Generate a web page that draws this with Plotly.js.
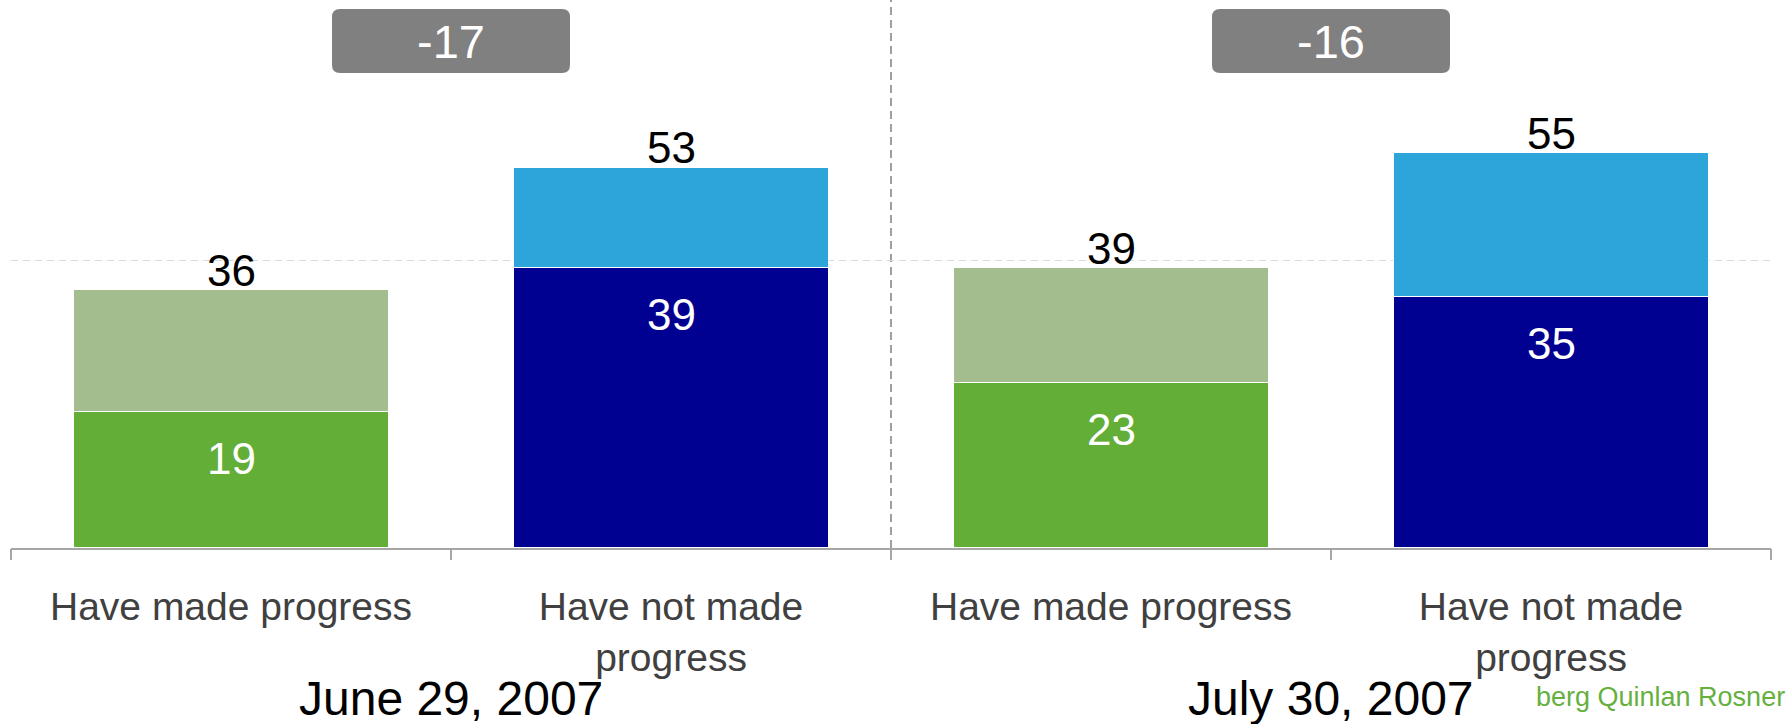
<!DOCTYPE html>
<html>
<head>
<meta charset="utf-8">
<script src="https://cdn.plot.ly/plotly-3.0.1.min.js"></script>
<style>
  html, body { margin: 0; padding: 0; background: #ffffff; }
  #chart { width: 1792px; height: 724px; }
</style>
</head>
<body>
<div id="chart"></div>
<script>
// ---- data ----
const dateLabels = ["June 29, 2007", "July 30, 2007"];
const categories = ["Have made progress", "Have not made<br>progress", "Have made progress", "Have not made<br>progress"];
const groupOfBar = [0, 0, 1, 1];
const strongValues = [19, 39, 23, 35];   // darker, lower segment
const totalValues = [36, 53, 39, 55];    // full bar height
const sourceText = "berg Quinlan Rosner";

// ---- styles ----
const FONT = "Arial, 'Liberation Sans', sans-serif";
const lowerColors = ["#62AE37", "#000091", "#62AE37", "#000091"];
const upperColors = ["#A3BD8F", "#2EA5DA", "#A3BD8F", "#2EA5DA"];

const xs = categories.map((_, i) => i);
const upperValues = totalValues.map((t, i) => t - strongValues[i]);

const traces = [
  {
    type: "bar", x: xs, y: strongValues, width: 0.716,
    marker: { color: lowerColors, line: { color: "#ffffff", width: 1.5 } },
    hoverinfo: "skip", showlegend: false
  },
  {
    type: "bar", x: xs, y: upperValues, width: 0.716,
    marker: { color: upperColors, line: { color: "#ffffff", width: 1.5 } },
    hoverinfo: "skip", showlegend: false
  },
  { type: "scatter", x: [], y: [], xaxis: "x2", yaxis: "y", hoverinfo: "skip", showlegend: false }
];

const annotations = [];
const shapes = [];

// value labels
xs.forEach(i => {
  annotations.push({
    xref: "x", yref: "y", x: i, y: totalValues[i], text: String(totalValues[i]),
    showarrow: false, yanchor: "middle", yshift: 19,
    font: { family: FONT, size: 44, color: "#000000" }
  });
  annotations.push({
    xref: "x", yref: "y", x: i, y: strongValues[i], text: String(strongValues[i]),
    showarrow: false, yanchor: "middle", yshift: -47,
    font: { family: FONT, size: 44, color: "#ffffff" }
  });
});

// per-group: date label, difference badge, separator
dateLabels.forEach((d, g) => {
  const idx = xs.filter(i => groupOfBar[i] === g);
  const center = idx.reduce((a, b) => a + b, 0) / idx.length;
  const diff = totalValues[idx[0]] - totalValues[idx[1]];
  annotations.push({
    xref: "x", yref: "paper", x: center, y: 0, text: d,
    showarrow: false, yanchor: "middle", yshift: -150,
    font: { family: FONT, size: 48, color: "#000000" }
  });
  // rounded badge
  const w = 119, r = 8, top = -9, bot = -73;
  shapes.push({
    type: "path", xref: "x", yref: "paper",
    xsizemode: "pixel", ysizemode: "pixel", xanchor: center, yanchor: 1,
    path: `M ${-w + r},${top} L ${w - r},${top} Q ${w},${top} ${w},${top - r} L ${w},${bot + r} Q ${w},${bot} ${w - r},${bot} L ${-w + r},${bot} Q ${-w},${bot} ${-w},${bot + r} L ${-w},${top - r} Q ${-w},${top} ${-w + r},${top} Z`,
    fillcolor: "#808080", line: { width: 0 }, layer: "above"
  });
  annotations.push({
    xref: "x", yref: "paper", x: center, y: 1, text: String(diff),
    showarrow: false, yanchor: "middle", yshift: -41,
    font: { family: FONT, size: 47, color: "#ffffff" }
  });
  if (g < dateLabels.length - 1) {
    const sep = idx[idx.length - 1] + 0.5;
    shapes.push({
      type: "line", xref: "x", yref: "paper", x0: sep, x1: sep, y0: 0, y1: 1,
      line: { color: "#808080", width: 1.5, dash: "8px,5px" }, layer: "below"
    });
  }
});

annotations.push({
  xref: "paper", yref: "paper", x: 1.009, y: 0, xanchor: "right", yanchor: "middle",
  yshift: -149, text: sourceText, showarrow: false,
  font: { family: FONT, size: 27, color: "#66B03F" }
});

const boundaries = [-0.5].concat(xs.map(i => i + 0.5));

const layout = {
  width: 1792, height: 724,
  margin: { l: 11, r: 21, t: 0, b: 176, pad: 0 },
  paper_bgcolor: "#ffffff", plot_bgcolor: "#ffffff",
  barmode: "stack", bargap: 0,
  showlegend: false,
  xaxis: {
    range: [-0.5, 3.5], tickmode: "array", tickvals: xs, ticktext: categories,
    ticks: "", showgrid: false, zeroline: false,
    showline: true, linecolor: "#A6A6A6", linewidth: 1.5,
    ticklabelstandoff: 24,
    tickfont: { family: FONT, size: 39, color: "#404040" },
    fixedrange: true
  },
  xaxis2: {
    overlaying: "x", anchor: "y", side: "bottom",
    range: [-0.5, 3.5], tickmode: "array", tickvals: boundaries,
    ticks: "outside", ticklen: 11, tickwidth: 1.5, tickcolor: "#A6A6A6",
    showticklabels: false, showgrid: false, zeroline: false, showline: false
  },
  yaxis: {
    range: [0, 76.2], tickmode: "linear", tick0: 0, dtick: 40,
    showgrid: true, gridcolor: "#D9D9D9", gridwidth: 1.2, griddash: "7px,5px",
    showticklabels: false, ticks: "", zeroline: false, showline: false,
    fixedrange: true
  },
  shapes: shapes,
  annotations: annotations
};

Plotly.newPlot("chart", traces, layout, { staticPlot: true, displayModeBar: false });
</script>
</body>
</html>
